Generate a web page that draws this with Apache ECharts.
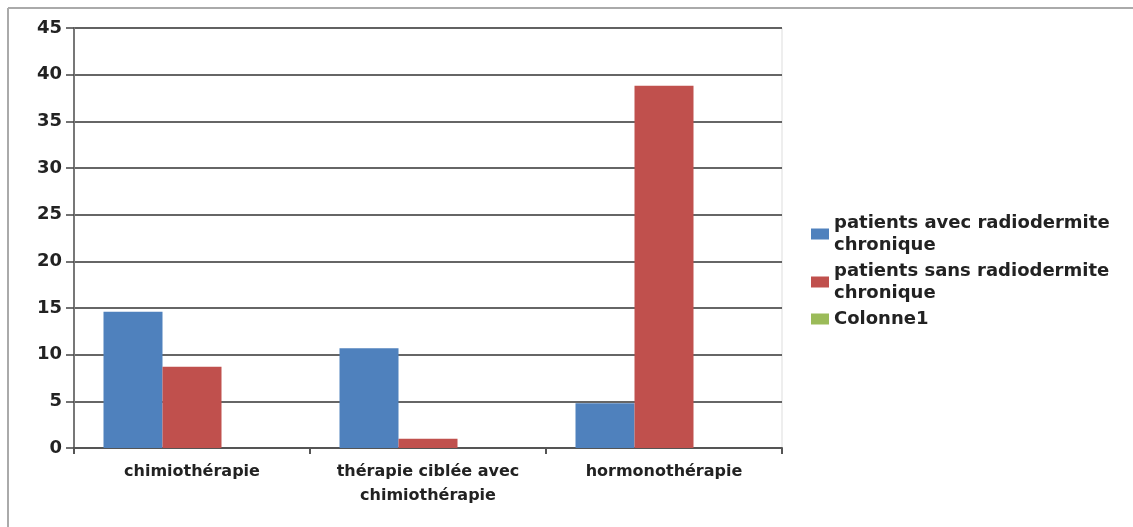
<!DOCTYPE html>
<html>
<head>
<meta charset="utf-8">
<script src="https://cdn.jsdelivr.net/npm/echarts@6/dist/echarts.min.js"></script>
<style>
  html, body { margin: 0; padding: 0; background: #fff; }
  #chart { width: 1133px; height: 527px; }
</style>
</head>
<body>
<div id="chart"></div>
<script>
// catégories et séries
const categories = ["chimiothérapie", "thérapie ciblée avec\nchimiothérapie", "hormonothérapie"];
const seriesNames = ["patients avec radiodermite\nchronique", "patients sans radiodermite\nchronique", "Colonne1"];
const avecRadiodermite = [14.6, 10.7, 4.8];
const sansRadiodermite = [8.7, 1.0, 38.8];
const colonne1 = [null, null, null];
const colors = ["#4F81BD", "#C0504D", "#9BBB59"];

const chart = echarts.init(document.getElementById("chart"));
const font = "'DejaVu Sans', sans-serif";

const option = {
  animation: false,
  textStyle: { fontFamily: font },
  color: colors,
  graphic: [
    // cadre gris en haut et à gauche
    { type: "line", shape: { x1: 8, y1: 8, x2: 1133, y2: 8 }, style: { stroke: "#aaa", lineWidth: 2 } },
    { type: "line", shape: { x1: 8, y1: 8, x2: 8, y2: 527 }, style: { stroke: "#aaa", lineWidth: 2 } },
  ],
  legend: {
    orient: "vertical",
    left: 806,
    top: 207,
    itemWidth: 18,
    itemHeight: 11,
    itemGap: 4,
    icon: "rect",
    data: seriesNames,
    textStyle: {
      fontFamily: font, fontWeight: "bold", fontSize: 18, color: "#222", lineHeight: 22,
    },
  },
  grid: { left: 74, top: 28, right: 351, bottom: 79, show: true, borderColor: "#ddd", borderWidth: 1 },
  xAxis: {
    type: "category",
    data: categories,
    axisLine: { lineStyle: { color: "#555", width: 2 } },
    axisTick: { show: true, length: 6, lineStyle: { color: "#555", width: 2 } },
    axisLabel: {
      color: "#222", fontFamily: font, fontWeight: "bold", fontSize: 16,
      lineHeight: 24, margin: 12, interval: 0,
    },
  },
  yAxis: {
    type: "value",
    min: 0, max: 45, interval: 5,
    axisLine: { show: true, lineStyle: { color: "#777", width: 2 } },
    axisTick: { show: true, length: 8, lineStyle: { color: "#444", width: 1.5 } },
    axisLabel: { color: "#222", fontFamily: font, fontWeight: "bold", fontSize: 18, margin: 12 },
    splitLine: { lineStyle: { color: "#333", width: 1.5 } },
  },
  series: [
    { name: seriesNames[0], type: "bar", data: avecRadiodermite, barGap: "0%", barCategoryGap: "25%" },
    { name: seriesNames[1], type: "bar", data: sansRadiodermite, barGap: "0%", barCategoryGap: "25%" },
    { name: seriesNames[2], type: "bar", data: colonne1, barGap: "0%", barCategoryGap: "25%" },
  ],
};

chart.setOption(option);
</script>
</body>
</html>
